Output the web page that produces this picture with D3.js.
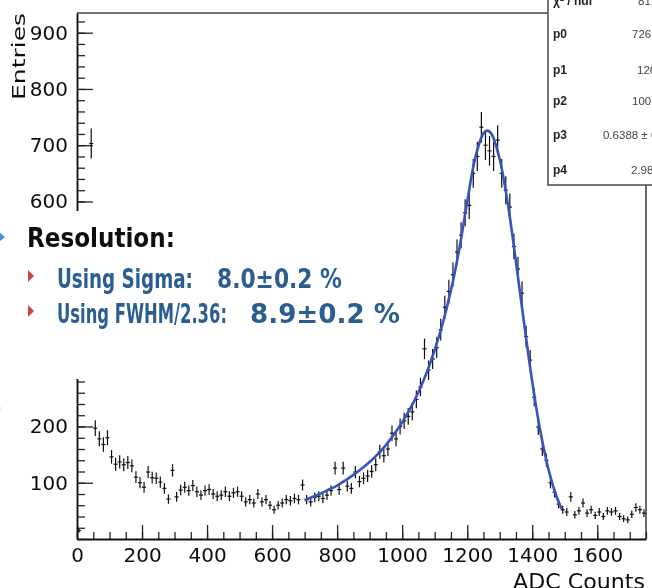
<!DOCTYPE html>
<html>
<head>
<meta charset="utf-8">
<script src="https://cdn.jsdelivr.net/npm/d3@7"></script>
<style>
  body { margin: 0; background: #fff; }
  svg { display: block; }
</style>
</head>
<body>
<script>
// histogram: ADC spectrum, bins of 12.5 counts from 0 to 1750 (null = empty bin)
let binWidth = 12.5;
let counts = [
  15, null, null, 703, 197, 178, 168, 180, 146, 133,
  137, 132, 136, 130, 110, 100, 92, 119, 109, 108,
  101, 90, 71, 122, 75, 87, 92, 86, 95, 84,
  78, 86, 88, 80, 76, 78, 84, 76, 82, 84,
  76, 66, 70, 64, 80, 66, 70, 60, 52, 60,
  64, 70, 68, 72, 70, 96, 70, 66, 74, 76,
  72, 78, 86, 126, 88, 126, 94, 90, 119, 102,
  108, 112, 120, 132, 155, 148, 160, 188, 178, 200,
  210, 218, 226, 248, 270, 338, 300, 320, 340, 372,
  412, 440, 470, 510, 540, 580, 593, 650, 680, 732,
  700, 690, 680, 709, 650, 620, 590, 520, 480, 437,
  360, 318, 252, 199, 160, 140, 100, 83, 62, 52,
  48, 75, 43, 50, 64, 46, 52, 42, 48, 40,
  50, 48, 50, 40, 36, 34, 44, 56, 52, 46
];

// fitted curve
let fitX = [700, 725, 750, 775, 800, 825, 850, 875, 900, 925, 950, 975, 1000, 1025, 1050, 1075,
  1100, 1125, 1150, 1175, 1200, 1225, 1250, 1262, 1275, 1300, 1325, 1350, 1375, 1400, 1425, 1450, 1475, 1490];
let fitY = [69, 75, 81, 88, 95, 104, 114, 125, 137, 151, 167, 186, 207, 232, 261, 295,
  336, 384, 442, 513, 599, 678, 721, 726, 720, 675, 596, 493, 384, 280, 192, 124, 75, 54];

let xMajor = [0, 200, 400, 600, 800, 1000, 1200, 1400, 1600];
let xMinor = d3.range(0, 1751, 50);
let yMajor = [100, 200, 300, 400, 500, 600, 700, 800, 900];
let yHidden = [300, 400, 500]; // labels under the slide text box
let yMinor = d3.range(0, 921, 20);

// stats box rows (right part is cut by the page edge)
let statNames = ["χ² / ndf", "p0", "p1", "p2", "p3", "p4"];
let statValues = ["81.2 / 57", "726.3 ± 11.2", "1262 ± 1.4", "100.4 ± 2.1", "0.6388 ± 0.0412", "2.98 ± 0.31"];
let statValueX = [638, 632, 637, 632, 603, 631];
let statY = [5, 38, 74, 105, 139, 174];

let width = 652, height = 588;
let svg = d3.select("body").append("svg")
  .attr("width", width)
  .attr("height", height);

svg.append("defs").append("filter").attr("id", "soft")
  .append("feGaussianBlur").attr("stdDeviation", 0.45);

// squeeze or stretch a text horizontally to a given width
function fitWidth(sel, x0, y0, w, rot) {
  let n = sel.node().getComputedTextLength();
  sel.attr("transform", `translate(${x0}, ${y0})${rot ? " rotate(" + rot + ")" : ""} scale(${w / n}, 1)`);
}

let g = svg.append("g").attr("filter", "url(#soft)");

let x = d3.scaleLinear().domain([0, 1750]).range([77, 646]);
let y = d3.scaleLinear().domain([0, 935]).range([539, 13]);

// frame top and right
g.append("line")
  .attr("x1", x(0)).attr("x2", x(1750))
  .attr("y1", y(935)).attr("y2", y(935))
  .attr("stroke", "#444").attr("stroke-width", 1.6);
g.append("line")
  .attr("x1", x(1750)).attr("x2", x(1750))
  .attr("y1", y(935)).attr("y2", y(0))
  .attr("stroke", "#444").attr("stroke-width", 1.6);

// x axis, ticks pointing inside
let gx = g.append("g").attr("transform", `translate(0, ${y(0)})`);
gx.append("g").call(d3.axisBottom(x).tickValues(xMinor).tickSize(-7).tickSizeOuter(0).tickFormat(""))
  .call(s => s.select(".domain").remove());
gx.append("g").call(d3.axisBottom(x).tickValues(xMajor).tickSize(-14).tickSizeOuter(0).tickPadding(9)
    .tickFormat(d3.format("d")))
  .call(s => s.selectAll("text").attr("font-size", 20).attr("font-family", "DejaVu Sans").attr("fill", "#111"));
gx.selectAll("line").attr("stroke", "#222").attr("stroke-width", 1.3);
gx.select(".domain").attr("stroke", "#111").attr("stroke-width", 1.8);

// y axis
let gy = g.append("g").attr("transform", `translate(${x(0)}, 0)`);
gy.append("g").call(d3.axisLeft(y).tickValues(yMinor).tickSize(-8).tickSizeOuter(0).tickFormat(""))
  .call(s => s.select(".domain").remove());
gy.append("g").call(d3.axisLeft(y).tickValues(yMajor).tickSize(-16).tickSizeOuter(0).tickPadding(9)
    .tickFormat(d => yHidden.includes(d) ? "" : d))
  .call(s => s.selectAll("text").attr("font-size", 20).attr("font-family", "DejaVu Sans").attr("fill", "#111"));
gy.selectAll("line").attr("stroke", "#222").attr("stroke-width", 1.3);
gy.select(".domain").attr("stroke", "#111").attr("stroke-width", 1.8);

// data points with error bars
let bins = counts.map((n, i) => ({ c: binWidth * (i + 0.5), n: n })).filter(d => d.n !== null);
let pts = g.append("g").attr("stroke", "#111").attr("stroke-width", 1.2);
pts.selectAll(".ev").data(bins).enter().append("line")
  .attr("x1", d => x(d.c)).attr("x2", d => x(d.c))
  .attr("y1", d => y(d.n - Math.sqrt(d.n))).attr("y2", d => y(d.n + Math.sqrt(d.n)));
pts.selectAll(".eh").data(bins).enter().append("line")
  .attr("x1", d => x(d.c - binWidth / 2)).attr("x2", d => x(d.c + binWidth / 2))
  .attr("y1", d => y(d.n)).attr("y2", d => y(d.n));

// fit
let line = d3.line().x(d => x(d[0])).y(d => y(d[1])).curve(d3.curveCatmullRom);
g.append("path")
  .datum(fitX.map((v, i) => [v, fitY[i]]))
  .attr("d", line)
  .attr("fill", "none")
  .attr("stroke", "#3953bd")
  .attr("stroke-width", 2.6);

// titles
let yTitle = g.append("text")
  .attr("text-anchor", "end")
  .attr("font-family", "DejaVu Sans")
  .attr("font-size", 18)
  .attr("fill", "#111")
  .text("Entries");
fitWidth(yTitle, 25, 13, 87, -90);
let xTitle = g.append("text")
  .attr("text-anchor", "end")
  .attr("font-family", "DejaVu Sans")
  .attr("font-size", 22)
  .attr("fill", "#111")
  .text("ADC Counts");
fitWidth(xTitle, 645, 589, 132);

// stats box
let stats = g.append("g");
stats.append("rect")
  .attr("x", 548).attr("y", -4).attr("width", 120).attr("height", 189)
  .attr("fill", "#fff").attr("stroke", "#555").attr("stroke-width", 1.6);
stats.selectAll(".sn").data(statNames).enter().append("text")
  .attr("x", 553).attr("y", (d, i) => statY[i])
  .attr("font-family", "Liberation Sans, Arial").attr("font-weight", "bold")
  .attr("font-size", 12).attr("fill", "#222")
  .text(d => d);
stats.selectAll(".sv").data(statValues).enter().append("text")
  .attr("x", (d, i) => statValueX[i]).attr("y", (d, i) => statY[i])
  .attr("font-family", "Liberation Sans, Arial")
  .attr("font-size", 11.5).attr("fill", "#444")
  .text(d => d);

// slide text box laid over the plot
let ov = svg.append("g").attr("filter", "url(#soft)");
ov.append("rect").attr("x", 0).attr("y", 211).attr("width", 416).attr("height", 168).attr("fill", "#fff");
ov.append("path").attr("d", "M-6,228 L5,237 L-6,246 Z").attr("fill", "#4a8fd6");
ov.append("path").attr("d", "M-4,401 Q5,408 -4,416 Z").attr("fill", "#b6d2ee");
ov.append("path").attr("d", "M28,270 L34,276 L28,282 Z").attr("fill", "#cc4444");
ov.append("path").attr("d", "M28,305 L34,311 L28,317 Z").attr("fill", "#cc4444");

let txtFont = "DejaVu Sans Condensed, Liberation Sans Narrow, Liberation Sans, sans-serif";
let lines = [
  { t: "Resolution:", x: 27, y: 247, w: 148, c: "#111" },
  { t: "Using Sigma:", x: 57, y: 288, w: 136, c: "#2b5d92" },
  { t: "8.0±0.2 %", x: 217, y: 288, w: 125, c: "#2b5d92" },
  { t: "Using FWHM/2.36:", x: 57, y: 323, w: 170, c: "#2b5d92" },
  { t: "8.9±0.2 %", x: 250, y: 323, w: 150, c: "#2b5d92" }
];
lines.forEach(d => {
  let t = ov.append("text")
    .attr("font-family", txtFont).attr("font-weight", "bold")
    .attr("font-size", 26)
    .attr("fill", d.c)
    .text(d.t);
  fitWidth(t, d.x, d.y, d.w);
});
</script>
</body>
</html>
